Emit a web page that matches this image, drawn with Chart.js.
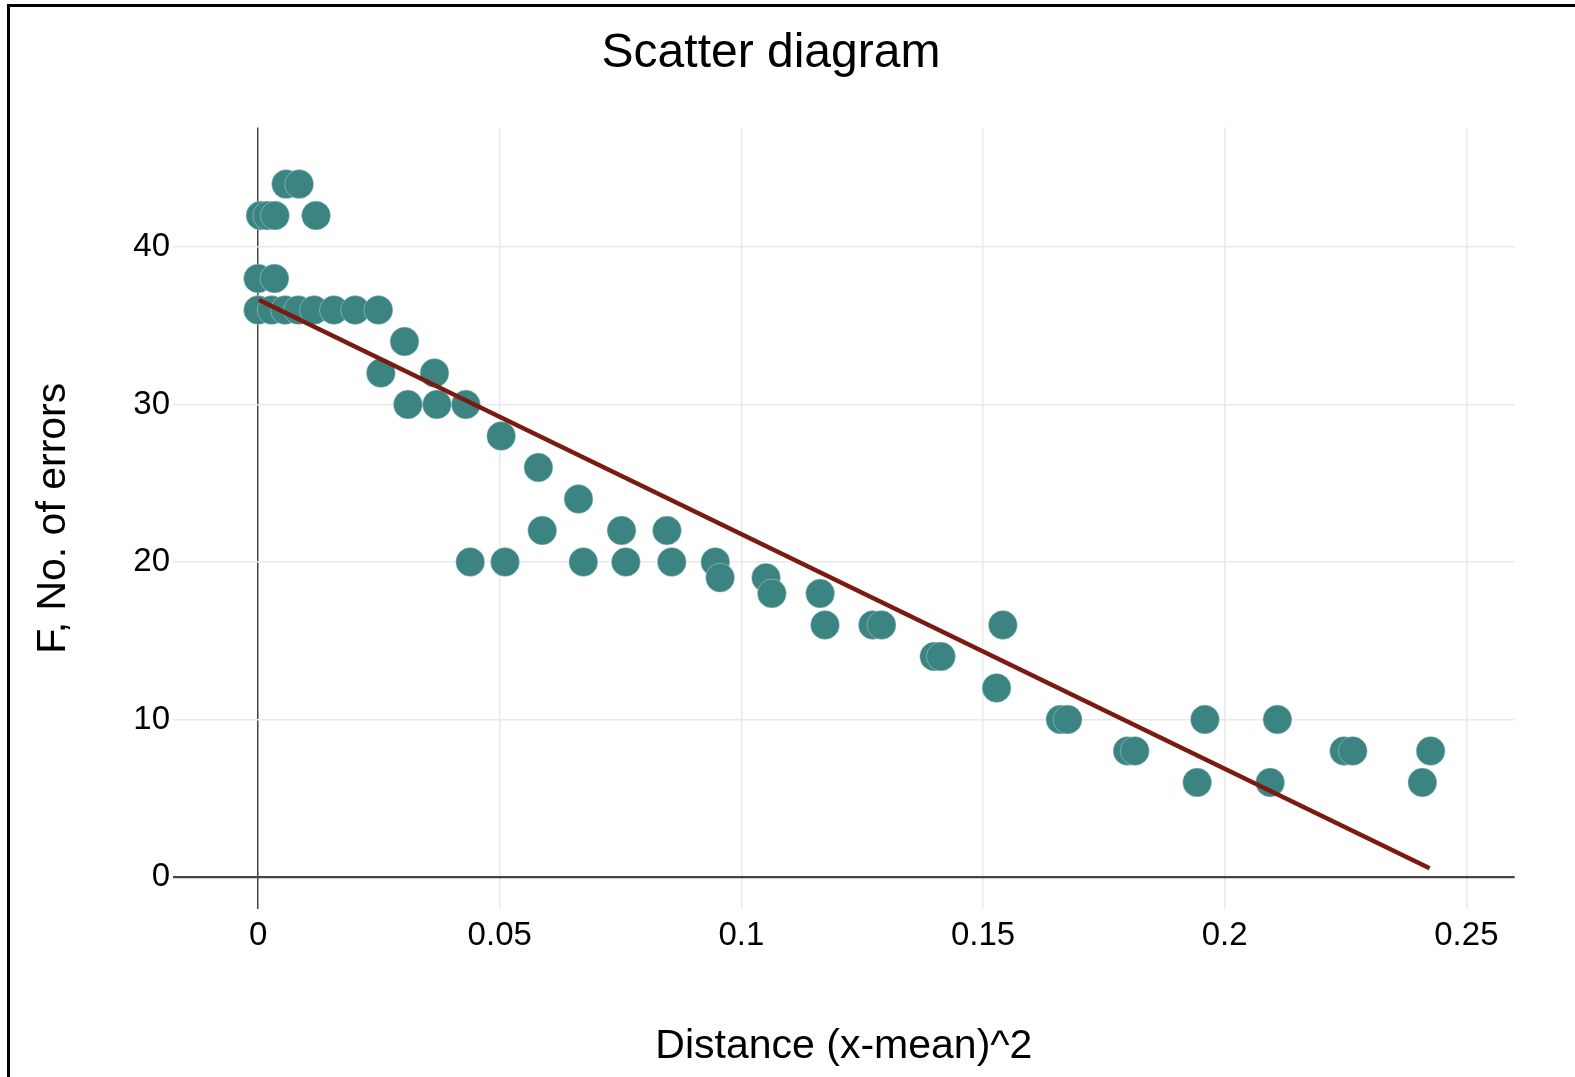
<!DOCTYPE html>
<html>
<head>
<meta charset="utf-8">
<script src="https://cdn.jsdelivr.net/npm/chart.js@4.4.1/dist/chart.umd.min.js"></script>
<style>
html,body{margin:0;padding:0;background:#fff;overflow:hidden;width:1575px;height:1077px;}
#wrap{position:absolute;left:0;top:0;width:1575px;height:1077px;}
#frame{position:absolute;left:7px;top:4px;width:1600px;height:1100px;border-top:3px solid #000;border-left:3px solid #000;pointer-events:none;}
</style>
</head>
<body>
<div id="wrap"><canvas id="c" width="1575" height="1077"></canvas></div>
<div id="frame"></div>
<script>
// Scatter points: distance (x-mean)^2 and number of errors
const xValues = [
  0.0058, 0.0085,
  0.0005, 0.0019, 0.0035, 0.0120,
  0.0000, 0.0034,
  0.0000, 0.0028, 0.0056, 0.0083, 0.0116, 0.0157, 0.0201, 0.0249,
  0.0303,
  0.0254, 0.0365,
  0.0310, 0.0370, 0.0430,
  0.0503,
  0.0580,
  0.0663,
  0.0588, 0.0752, 0.0846,
  0.0439, 0.0511, 0.0673, 0.0761, 0.0856, 0.0946,
  0.0956, 0.1051,
  0.1063, 0.1163,
  0.1173, 0.1272, 0.1290, 0.1541,
  0.1399, 0.1413,
  0.1528,
  0.1660, 0.1675, 0.1959, 0.2109,
  0.1799, 0.1814, 0.2247, 0.2265, 0.2426,
  0.1943, 0.2094, 0.2409
];
const yValues = [
  44, 44,
  42, 42, 42, 42,
  38, 38,
  36, 36, 36, 36, 36, 36, 36, 36,
  34,
  32, 32,
  30, 30, 30,
  28,
  26,
  24,
  22, 22, 22,
  20, 20, 20, 20, 20, 20,
  19, 19,
  18, 18,
  16, 16, 16, 16,
  14, 14,
  12,
  10, 10, 10, 10,
  8, 8, 8, 8, 8,
  6, 6, 6
];
// Fitted line end points
const fitX = [0.0002, 0.2424];
const fitY = [36.64, 0.55];

const xTicks = [0, 0.05, 0.1, 0.15, 0.2, 0.25];
const xTickLabels = ['0', '0.05', '0.1', '0.15', '0.2', '0.25'];
const yTicks = [0, 10, 20, 30, 40];
const yTickLabels = ['0', '10', '20', '30', '40'];

const FONT = "'Liberation Sans', Arial, Helvetica, sans-serif";
const GRID = '#e9e9e9';
const ZERO = '#444444';

const points = xValues.map((x, i) => ({x: x, y: yValues[i]}));
const fitPoints = fitX.map((x, i) => ({x: x, y: fitY[i]}));

new Chart(document.getElementById('c'), {
  type: 'scatter',
  data: {
    datasets: [
      {
        type: 'line',
        label: 'Fit',
        data: fitPoints,
        borderColor: '#7a1a10',
        borderWidth: 4.5,
        pointRadius: 0,
        fill: false,
        order: 0
      },
      {
        label: 'Errors',
        data: points,
        backgroundColor: '#3b8482',
        borderColor: 'rgba(220,235,235,0.4)',
        borderWidth: 1,
        pointRadius: 14.5,
        pointHoverRadius: 14.5,
        order: 1
      }
    ]
  },
  options: {
    responsive: false,
    animation: false,
    devicePixelRatio: 1,
    layout: {padding: {left: 27.3, right: 60.3, top: 0, bottom: 0}},
    plugins: {
      legend: {display: false},
      tooltip: {enabled: false},
      title: {
        display: true,
        text: 'Scatter diagram',
        color: '#000',
        font: {family: FONT, size: 48, weight: 'normal'},
        padding: {top: 25.4, bottom: 44.6}
      }
    },
    scales: {
      x: {
        type: 'linear',
        min: -0.0176,
        max: 0.26,
        afterBuildTicks: (s) => { s.ticks = xTicks.map(v => ({value: v})); },
        afterFit: (s) => { s.height = 168; },
        border: {display: false},
        grid: {
          drawTicks: false,
          color: (c) => (c.tick && c.tick.value === 0) ? ZERO : GRID,
          lineWidth: 1.5
        },
        ticks: {
          padding: 7,
          color: '#000',
          font: {family: FONT, size: 33},
          maxRotation: 0,
          autoSkip: false,
          callback: (v) => { const i = xTicks.indexOf(v); return i >= 0 ? xTickLabels[i] : ''; }
        },
        title: {
          display: true,
          text: 'Distance (x-mean)^2',
          color: '#000',
          font: {family: FONT, size: 41, weight: 'normal'},
          padding: {top: 0, bottom: 6}
        }
      },
      y: {
        type: 'linear',
        min: -2.04,
        max: 47.59,
        afterBuildTicks: (s) => { s.ticks = yTicks.map(v => ({value: v})); },
        afterFit: (s) => { s.width = 173 - 27.3; },
        border: {display: false},
        grid: {
          drawTicks: false,
          color: (c) => (c.tick && c.tick.value === 0) ? ZERO : GRID,
          lineWidth: (c) => (c.tick && c.tick.value === 0) ? 2.2 : 1.5
        },
        ticks: {
          padding: 3,
          color: '#000',
          font: {family: FONT, size: 33},
          autoSkip: false,
          callback: (v) => { const i = yTicks.indexOf(v); return i >= 0 ? yTickLabels[i] : ''; }
        },
        title: {
          display: true,
          text: 'F, No. of errors',
          color: '#000',
          font: {family: FONT, size: 41, weight: 'normal'},
          padding: {top: 2, bottom: 0}
        }
      }
    }
  }
});
</script>
</body>
</html>
